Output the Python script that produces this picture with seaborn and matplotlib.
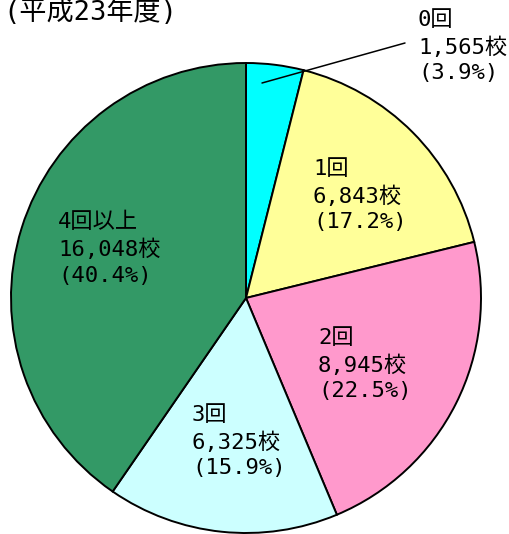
import matplotlib
matplotlib.use("Agg")
import matplotlib.pyplot as plt
import seaborn as sns

categories = ["0回", "1回", "2回", "3回", "4回以上"]
counts = [1565, 6843, 8945, 6325, 16048]
percents = ["3.9%", "17.2%", "22.5%", "15.9%", "40.4%"]
title = "(平成23年度)"

colors = ["#00FFFF", "#FFFF99", "#FF99CC", "#CCFFFF", "#339966"]

sns.set_theme(style="white")
FAM = ["DejaVu Sans Mono", "Noto Sans CJK JP"]
plt.rcParams["font.family"] = FAM

W, H = 510, 534
fig = plt.figure(figsize=(W / 100, H / 100), dpi=100)
ax = fig.add_axes([0, 0, 1, 1])
ax.set_xlim(0, W)
ax.set_ylim(0, H)
ax.set_aspect("equal")
ax.axis("off")

cx, cy, R = 246, H - 298, 235
wedges, _ = ax.pie(counts, colors=colors, startangle=90, counterclock=False,
                   center=(cx, cy), radius=R,
                   wedgeprops=dict(edgecolor="black", linewidth=1.4))
ax.set_xlim(0, W)
ax.set_ylim(0, H)

labels = [f"{c}\n{n:,}校\n({p})" for c, n, p in zip(categories, counts, percents)]
label_pos = [(418, H - 13), (313, H - 162), (318, H - 331), (192, H - 408), (58, H - 215)]
for lab, (x, y) in zip(labels, label_pos):
    ax.text(x, y + 3, lab, ha="left", va="top", fontsize=16, linespacing=1.36, color="black")

ax.plot([262, 405], [H - 83, H - 43], color="black", linewidth=1.1)

ax.text(3, H - 20, title, ha="left", va="baseline", fontsize=19.5, color="black")

fig.savefig("out.png", dpi=100)
